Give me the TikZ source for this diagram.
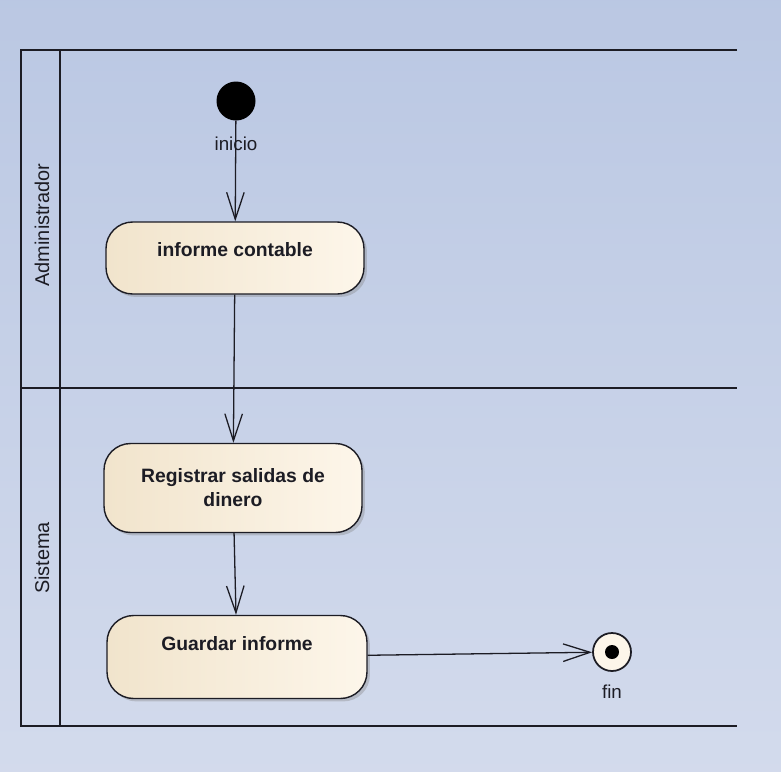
\documentclass[tikz,border=0pt]{standalone}
\usepackage{fontspec}
\setmainfont{Liberation Sans}
\usetikzlibrary{arrows.meta,shadows}

\definecolor{bgtop}{HTML}{AEBEDE}
\definecolor{bgbot}{HTML}{DFE4F1}
\definecolor{actleft}{HTML}{F1E4CC}
\definecolor{actright}{HTML}{FDF6EA}
\definecolor{ink}{HTML}{1C1C24}
\pgfdeclareverticalshading{lanebg}{100bp}{color(0bp)=(bgbot); color(100bp)=(bgtop)}

\begin{document}
\begin{tikzpicture}[x=0.03cm,y=-0.03cm,
    swimlane/.style={line width=1.6pt,draw=ink},
    lanename/.style={rotate=90,font=\fontsize{17}{20}\selectfont,text=ink},
    action/.style={draw=ink,line width=1.2pt,rounded corners=0.8cm,
        left color=actleft,right color=actright,
        drop shadow={shadow xshift=2.5pt,shadow yshift=-2.5pt,opacity=0.35,fill=gray},
        font=\fontsize{16.5}{20.4}\selectfont\bfseries,align=center,text=ink},
    startnode/.style={circle,fill=black,minimum size=1.17cm,inner sep=0pt},
    endnode/.style={circle,draw=ink,line width=1.5pt,fill=actright,minimum size=1.14cm,inner sep=0pt,
        path picture={\fill[black] (path picture bounding box.center) circle[radius=0.21cm];}},
    flow/.style={-{Straight Barb[length=23pt,width=15pt]},line width=1.1pt,draw=ink},
    tag/.style={font=\fontsize{16}{19}\selectfont,text=ink}]

    % background and lanes
    \shade[shading=lanebg] (0,0) rectangle (781,771);
    \useasboundingbox (0,0) rectangle (781,771);
    \draw[swimlane] (737,50) -- (21,50) -- (21,726) -- (737,726);
    \draw[swimlane] (60,50) -- (60,726);
    \draw[swimlane] (21,388) -- (737,388);
    \node[lanename] (admin) at (42,225) {Administrador};
    \node[lanename] (sist) at (42,558) {Sistema};

    % activities
    \node[startnode,label={[tag,label distance=10pt]below:inicio}] (start) at (236,101) {};
    \node[action,minimum width=7.74cm,minimum height=2.16cm,text height=12pt,text depth=14pt]
        (inf) at (235,258) {informe contable};
    \node[action,minimum width=7.74cm,minimum height=2.67cm]
        (reg) at (233,488) {Registrar salidas de\\dinero};
    \node[action,minimum width=7.8cm,minimum height=2.49cm,text height=12pt,text depth=23pt]
        (guard) at (237,657) {Guardar informe};
    \node[endnode,label={[tag,label distance=8pt]below:fin}] (end) at (612,652) {};

    \draw[flow] (start) -- (inf);
    \draw[flow] (inf) -- (reg);
    \draw[flow] (reg) -- (guard);
    \draw[flow] (guard) -- (end);
\end{tikzpicture}
\end{document}
